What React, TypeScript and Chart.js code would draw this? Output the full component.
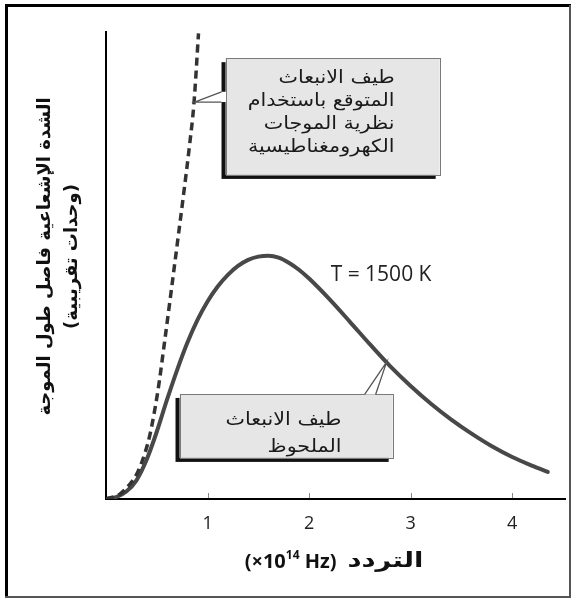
import React, { useEffect, useRef } from "react";
import { Chart, registerables } from "chart.js";

Chart.register(...registerables);

// ---- data ----
const freqTicks = [1, 2, 3, 4];

const observedFreq = [0, 0.1, 0.2, 0.3, 0.4, 0.5, 0.6, 0.7, 0.8, 0.9, 1.0, 1.1, 1.2, 1.3, 1.4, 1.5, 1.6, 1.7, 1.8, 1.9, 2.0, 2.2, 2.4, 2.6, 2.8, 3.0, 3.2, 3.4, 3.6, 3.8, 4.0, 4.2, 4.35];
const observedIntensity = [0, 0.4, 1.6, 4.0, 8.4, 14.4, 21.2, 27.6, 33.4, 38.3, 42.3, 45.5, 48.0, 49.9, 51.2, 51.9, 52.1, 51.7, 50.6, 49.1, 47.2, 42.8, 38.0, 33.1, 28.4, 24.2, 20.4, 17.0, 14.0, 11.3, 9.0, 7.1, 5.8];

const classicalFreq = [0, 0.133, 0.25, 0.313, 0.38, 0.43, 0.51, 0.576, 0.642, 0.704, 0.773, 0.823, 0.865, 0.911];
const classicalIntensity = [0, 1.0, 3.6, 5.8, 9.6, 13.5, 23.0, 33.5, 44.5, 55.0, 66.8, 75.8, 84.4, 99.7];

const yTitleLines = ["الشدة الإشعاعية فاصل طول الموجة", "(وحدات تقريبية)"];
const xTitleArabic = "التردد";
const xTitleUnitBase = "(×10";
const xTitleUnitExp = "14";
const xTitleUnitRest = " Hz)";
const classicalLabelLines = ["طيف الانبعاث", "المتوقع باستخدام", "نظرية الموجات", "الكهرومغناطيسية"];
const observedLabelLines = ["طيف الانبعاث", "الملحوظ"];
const tempLabel = "T = 1500 K";

// ---- annotation layout (data units) ----
const classicalBox = { l: 1.177, r: 3.286, t: 94.4, b: 69.4, textRight: 2.842, lines: [90.15, 85.2, 80.3, 75.2] };
const classicalPointer = { tipX: 0.872, tipY: 85.0, baseY1: 87.2, baseY2: 85.0 };
const observedBox = { l: 0.724, r: 2.823, t: 22.5, b: 8.8, textRight: 2.32, lines: [16.9, 11.1] };
const observedPointer = { tipX: 2.763, tipY: 29.3, baseX1: 2.547, baseX2: 2.655 };
const tempPos = { x: 2.212, y: 48.0 };

const ARABIC = "'DejaVu Sans', sans-serif";
const LATIN = "'Open Sans', sans-serif";

// draw text with a horizontal stretch (reference Arabic face is wider than DejaVu)
function fillStretched(ctx: CanvasRenderingContext2D, text: string, x: number, y: number, hs: number) {
  ctx.save();
  ctx.translate(x, y);
  ctx.scale(hs, 1);
  ctx.fillText(text, 0, 0);
  ctx.restore();
}

function drawBoxBody(ctx: CanvasRenderingContext2D, l: number, t: number, r: number, b: number) {
  ctx.fillStyle = "#111";
  ctx.fillRect(l - 4, t + 4, r - l, b - t);
  ctx.fillStyle = "#e6e6e6";
  ctx.fillRect(l, t, r - l, b - t);
  ctx.strokeStyle = "#7a7a7a";
  ctx.lineWidth = 1;
  ctx.strokeRect(Math.round(l) + 0.5, Math.round(t) + 0.5, Math.round(r - l), Math.round(b - t));
}

const overlayPlugin = {
  id: "overlay",
  afterDraw(chart: any) {
    const { ctx, scales } = chart;
    const xs = scales.x;
    const ys = scales.y;
    const W = chart.width;
    const H = chart.height;
    ctx.save();

    // outer frame
    ctx.strokeStyle = "#000";
    ctx.lineWidth = 3;
    ctx.beginPath();
    ctx.moveTo(6.5, H - 2);
    ctx.lineTo(6.5, 5.5);
    ctx.lineTo(W, 5.5);
    ctx.stroke();
    ctx.strokeStyle = "#555";
    ctx.lineWidth = 2;
    ctx.beginPath();
    ctx.moveTo(5, H - 2);
    ctx.lineTo(W - 1, H - 2);
    ctx.lineTo(W - 1, 5);
    ctx.stroke();

    // inner tick marks on x axis
    ctx.strokeStyle = "#888";
    ctx.lineWidth = 1;
    freqTicks.forEach((v) => {
      const px = Math.round(xs.getPixelForValue(v)) + 0.5;
      ctx.beginPath();
      ctx.moveTo(px, ys.bottom - 1);
      ctx.lineTo(px, ys.bottom - 6);
      ctx.stroke();
    });

    const boxFont = `18px ${ARABIC}`;
    const boxStretch = 1.15;

    // classical callout
    {
      const l = xs.getPixelForValue(classicalBox.l);
      const r = xs.getPixelForValue(classicalBox.r);
      const t = ys.getPixelForValue(classicalBox.t);
      const b = ys.getPixelForValue(classicalBox.b);
      drawBoxBody(ctx, l, t, r, b);
      const tx = xs.getPixelForValue(classicalPointer.tipX);
      const ty = ys.getPixelForValue(classicalPointer.tipY);
      const y1 = ys.getPixelForValue(classicalPointer.baseY1);
      const y2 = ys.getPixelForValue(classicalPointer.baseY2);
      ctx.fillStyle = "#fff";
      ctx.beginPath();
      ctx.moveTo(tx, ty);
      ctx.lineTo(l + 0.5, y1);
      ctx.lineTo(l + 0.5, y2);
      ctx.closePath();
      ctx.fill();
      ctx.fillRect(l - 5, y1, 5.5, y2 - y1);
      ctx.strokeStyle = "#555";
      ctx.lineWidth = 1.3;
      ctx.beginPath();
      ctx.moveTo(l - 4, y1);
      ctx.lineTo(tx, ty);
      ctx.lineTo(l - 4, y2);
      ctx.stroke();

      ctx.fillStyle = "#1a1a1a";
      ctx.font = boxFont;
      ctx.direction = "rtl";
      ctx.textAlign = "right";
      ctx.textBaseline = "middle";
      const trx = xs.getPixelForValue(classicalBox.textRight);
      classicalLabelLines.forEach((s, i) => {
        fillStretched(ctx, s, trx, ys.getPixelForValue(classicalBox.lines[i]), boxStretch);
      });
    }

    // observed callout
    {
      const l = xs.getPixelForValue(observedBox.l);
      const r = xs.getPixelForValue(observedBox.r);
      const t = ys.getPixelForValue(observedBox.t);
      const b = ys.getPixelForValue(observedBox.b);
      drawBoxBody(ctx, l, t, r, b);
      const tx = xs.getPixelForValue(observedPointer.tipX);
      const ty = ys.getPixelForValue(observedPointer.tipY);
      const x1 = xs.getPixelForValue(observedPointer.baseX1);
      const x2 = xs.getPixelForValue(observedPointer.baseX2);
      ctx.fillStyle = "#fff";
      ctx.beginPath();
      ctx.moveTo(tx, ty);
      ctx.lineTo(x1, t + 0.5);
      ctx.lineTo(x2, t + 0.5);
      ctx.closePath();
      ctx.fill();
      ctx.strokeStyle = "#555";
      ctx.lineWidth = 1.3;
      ctx.beginPath();
      ctx.moveTo(x1, t + 0.5);
      ctx.lineTo(tx, ty);
      ctx.lineTo(x2, t + 0.5);
      ctx.stroke();

      ctx.fillStyle = "#1a1a1a";
      ctx.font = boxFont;
      ctx.direction = "rtl";
      ctx.textAlign = "right";
      ctx.textBaseline = "middle";
      const trx = xs.getPixelForValue(observedBox.textRight);
      observedLabelLines.forEach((s, i) => {
        fillStretched(ctx, s, trx, ys.getPixelForValue(observedBox.lines[i]), boxStretch);
      });
    }

    // temperature label
    ctx.direction = "ltr";
    ctx.fillStyle = "#222";
    ctx.font = `21px ${LATIN}`;
    ctx.textAlign = "left";
    ctx.textBaseline = "middle";
    ctx.fillText(tempLabel, xs.getPixelForValue(tempPos.x), ys.getPixelForValue(tempPos.y));

    // y axis title (rotated)
    ctx.save();
    ctx.translate(58, (ys.top + ys.bottom) / 2 - 9);
    ctx.rotate(-Math.PI / 2);
    ctx.direction = "rtl";
    ctx.textAlign = "center";
    ctx.textBaseline = "middle";
    ctx.fillStyle = "#111";
    ctx.font = `bold 18px ${ARABIC}`;
    ctx.fillText(yTitleLines[0], 0, -13);
    ctx.fillText(yTitleLines[1], 0, 14);
    ctx.restore();

    // x axis title
    {
      const cy = 562;
      ctx.direction = "ltr";
      ctx.fillStyle = "#111";
      const fBase = `bold 20px ${LATIN}`;
      const fExp = `bold 12px ${LATIN}`;
      const fAr = `bold 21px ${ARABIC}`;
      const arStretch = 1.3;
      ctx.font = fBase;
      const w1 = ctx.measureText(xTitleUnitBase).width;
      const w3 = ctx.measureText(xTitleUnitRest).width;
      ctx.font = fExp;
      const w2 = ctx.measureText(xTitleUnitExp).width;
      ctx.font = fAr;
      const wA = ctx.measureText(xTitleArabic).width * arStretch;
      const gap = 11;
      const total = w1 + w2 + w3 + gap + wA;
      let sx = 334 - total / 2;
      ctx.textAlign = "left";
      ctx.textBaseline = "middle";
      ctx.font = fBase;
      ctx.fillText(xTitleUnitBase, sx, cy);
      sx += w1;
      ctx.font = fExp;
      ctx.fillText(xTitleUnitExp, sx, cy - 6);
      sx += w2;
      ctx.font = fBase;
      ctx.fillText(xTitleUnitRest, sx, cy);
      sx += w3 + gap;
      ctx.font = fAr;
      fillStretched(ctx, xTitleArabic, sx, cy, arStretch);
    }

    ctx.restore();
  },
};

export default function App() {
  const canvasRef = useRef<HTMLCanvasElement | null>(null);

  useEffect(() => {
    document.body.style.margin = "0";
    const canvas = canvasRef.current;
    if (!canvas) return;
    const chart = new Chart(canvas, {
      type: "line",
      data: {
        datasets: [
          {
            label: "classical",
            data: classicalFreq.map((f, i) => ({ x: f, y: classicalIntensity[i] })),
            borderColor: "#333",
            borderWidth: 3.5,
            borderDash: [8, 5],
            pointRadius: 0,
            tension: 0.4,
            cubicInterpolationMode: "monotone",
            fill: false,
          },
          {
            label: "observed",
            data: observedFreq.map((f, i) => ({ x: f, y: observedIntensity[i] })),
            borderColor: "#484848",
            borderWidth: 4,
            borderCapStyle: "round",
            pointRadius: 0,
            tension: 0.4,
            cubicInterpolationMode: "monotone",
            fill: false,
          },
        ],
      },
      options: {
        responsive: false,
        animation: false,
        events: [],
        layout: { padding: { top: 32, right: 6, left: 0, bottom: 0 } },
        plugins: { legend: { display: false }, tooltip: { enabled: false }, title: { display: false } },
        scales: {
          x: {
            type: "linear",
            min: 0,
            max: 4.52,
            afterBuildTicks: (scale: any) => {
              scale.ticks = freqTicks.map((v) => ({ value: v }));
            },
            afterFit: (scale: any) => {
              scale.height = 100;
            },
            grid: { display: false, drawTicks: false },
            border: { display: true, color: "#000", width: 2 },
            ticks: {
              color: "#222",
              padding: 14,
              maxRotation: 0,
              autoSkip: false,
              font: { family: "Open Sans", size: 18 },
              callback: (v: any) => String(v),
            },
          },
          y: {
            type: "linear",
            min: 0,
            max: 100,
            afterFit: (scale: any) => {
              scale.width = 106;
            },
            grid: { display: false, drawTicks: false },
            border: { display: true, color: "#000", width: 2 },
            ticks: { display: false },
          },
        },
      },
      plugins: [overlayPlugin],
    } as any);
    return () => chart.destroy();
  }, []);

  return (
    <div style={{ width: 571, height: 599, background: "#fff" }}>
      <canvas ref={canvasRef} width={571} height={599} style={{ display: "block" }} />
    </div>
  );
}
